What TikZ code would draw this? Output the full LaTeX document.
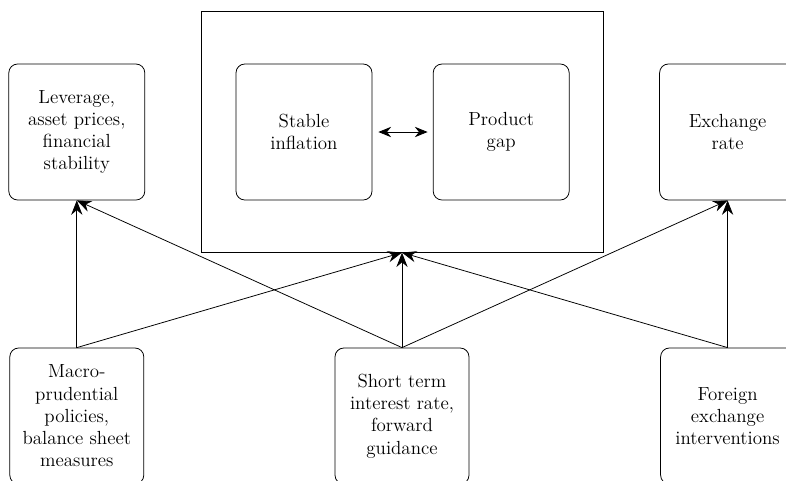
\documentclass[tikz,border=0pt]{standalone}
\usetikzlibrary{arrows.meta}

\begin{document}
\begin{tikzpicture}[
    box/.style={draw, rounded corners=0.22cm, minimum width=3.4cm, minimum height=3.4cm,
      align=center, font=\fontsize{13.5}{15.8}\selectfont, line width=0.55pt},
    arr/.style={-{Stealth[length=3.6mm, width=2.8mm]}, line width=0.55pt}
  ]
    \useasboundingbox (0,0) rectangle (19.65,-12);

    % Central target box
    \node[draw, line width=0.55pt, minimum width=10.05cm, minimum height=6.03cm] (target) at (10.05,-3.29) {};
    \node[box] (infl) at (7.6,-3.3) {Stable\\inflation};
    \node[box] (gap) at (12.53,-3.3) {Product\\gap};
    \draw[{Stealth[length=3.2mm, width=2.6mm]}-{Stealth[length=3.2mm, width=2.6mm]}, line width=0.55pt,
      shorten <=0.15cm, shorten >=0.13cm] (infl.east) -- (gap.west);

    % Other targets
    \node[box] (lev) at (1.92,-3.3) {Leverage,\\asset prices,\\financial\\stability};
    \node[box] (exch) at (18.19,-3.3) {Exchange\\rate};

    % Instruments
    \node[box, minimum width=3.35cm] (macro) at (1.92,-10.4) {Macro-\\prudential\\policies,\\balance sheet\\measures};
    \node[box, minimum width=3.35cm] (short) at (10.05,-10.4) {Short term\\interest rate,\\forward\\guidance};
    \node[box, minimum width=3.35cm] (forex) at (18.19,-10.4) {Foreign\\exchange\\interventions};

    % Links
    \draw[arr] (macro.north) -- (lev.south);
    \draw[arr] (macro.north) -- (target.south);
    \draw[arr] (short.north) -- (lev.south);
    \draw[arr] (short.north) -- (target.south);
    \draw[arr] (short.north) -- (exch.south);
    \draw[arr] (forex.north) -- (target.south);
    \draw[arr] (forex.north) -- (exch.south);
  \end{tikzpicture}
\end{document}
